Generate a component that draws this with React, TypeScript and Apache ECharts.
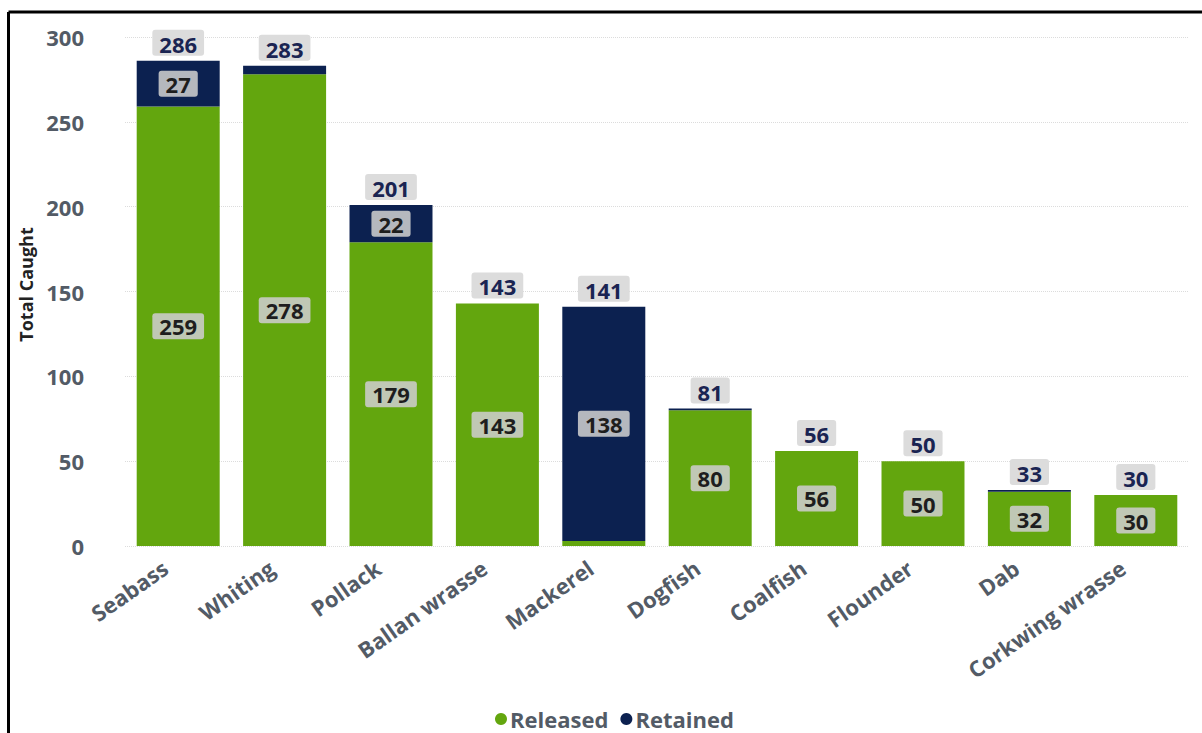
import React, { useEffect, useRef } from "react";
import * as echarts from "echarts";

const categories = ["Seabass", "Whiting", "Pollack", "Ballan wrasse", "Mackerel", "Dogfish", "Coalfish", "Flounder", "Dab", "Corkwing wrasse"];
const released = [259, 278, 179, 143, 3, 80, 56, 50, 32, 30];
const retained = [27, 5, 22, 0, 138, 1, 0, 0, 1, 0];
const totals = [286, 283, 201, 143, 141, 81, 56, 50, 33, 30];
const yTicks = { min: 0, max: 300, interval: 50 };

const FONT = "'Open Sans', 'Noto Sans', sans-serif";

export default function App() {
  const ref = useRef<HTMLDivElement>(null);
  useEffect(() => {
    document.body.style.margin = "0";
    if (!ref.current) return;
    const chart = echarts.init(ref.current, undefined, { renderer: "svg" });
    const inLabel = (v: number) => ({
      value: v,
      label: { show: v >= 10 },
    });
    const insideLabel = {
      show: true,
      position: "inside",
      fontFamily: FONT,
      fontWeight: "bold",
      fontSize: 22,
      color: "#1e1e1e",
      backgroundColor: "rgba(205,205,205,0.88)",
      borderRadius: 3,
      padding: [3, 7, 1, 7],
    };
    chart.setOption({
      animation: false,
      backgroundColor: "#ffffff",
      textStyle: { fontFamily: FONT },
      grid: { left: 125, right: 13, top: 37, bottom: 187, containLabel: false },
      legend: {
        data: ["Released", "Retained"],
        bottom: -2,
        left: 490,
        icon: "circle",
        itemWidth: 12,
        itemHeight: 12,
        itemGap: 12,
        textStyle: { fontFamily: FONT, fontWeight: "bold", fontSize: 22, color: "#535b66", padding: [0, 0, 0, -2] },
      },
      xAxis: {
        type: "category",
        data: categories,
        axisLine: { show: false },
        axisTick: { show: false },
        axisLabel: {
          rotate: 35,
          margin: 10,
          interval: 0,
          fontFamily: FONT,
          fontWeight: "bold",
          fontSize: 22,
          color: "#535b66",
          padding: [0, 16, 0, 0],
        },
      },
      yAxis: {
        type: "value",
        min: yTicks.min,
        max: yTicks.max,
        interval: yTicks.interval,
        name: "Total Caught",
        nameLocation: "middle",
        nameGap: 88,
        nameTextStyle: { fontFamily: FONT, fontWeight: "bold", fontSize: 18, color: "#222222", padding: [0, 0, 0, 14] },
        axisLabel: { margin: 41, fontFamily: FONT, fontWeight: "bold", fontSize: 22, color: "#535b66" },
        splitLine: { lineStyle: { type: "dotted", color: "#dcdcdc", width: 1 } },
      },
      graphic: [
        { type: "line", shape: { x1: 8.5, y1: 12, x2: 1202, y2: 12 }, style: { stroke: "#000", lineWidth: 3 } },
        { type: "line", shape: { x1: 8.5, y1: 12, x2: 8.5, y2: 733 }, style: { stroke: "#000", lineWidth: 3 } },
      ],
      series: [
        {
          name: "Released",
          type: "bar",
          stack: "a",
          barCategoryGap: "22%",
          itemStyle: { color: "#63a60e" },
          label: insideLabel,
          data: released.map(inLabel),
        },
        {
          name: "Retained",
          type: "bar",
          stack: "a",
          itemStyle: { color: "#0c2150" },
          label: insideLabel,
          data: retained.map(inLabel),
        },
        {
          name: "Total",
          type: "bar",
          stack: "a",
          itemStyle: { color: "transparent" },
          label: {
            show: true,
            position: "top",
            distance: 5,
            fontFamily: FONT,
            fontWeight: "bold",
            fontSize: 22,
            color: "#1a2452",
            backgroundColor: "#dcdcdc",
            borderRadius: 3,
            padding: [3, 7, 1, 7],
            formatter: (p: any) => String(totals[p.dataIndex]),
          },
          data: totals.map(() => 0),
        },
      ],
    });
    return () => chart.dispose();
  }, []);
  return <div ref={ref} style={{ width: 1202, height: 733 }} />;
}
